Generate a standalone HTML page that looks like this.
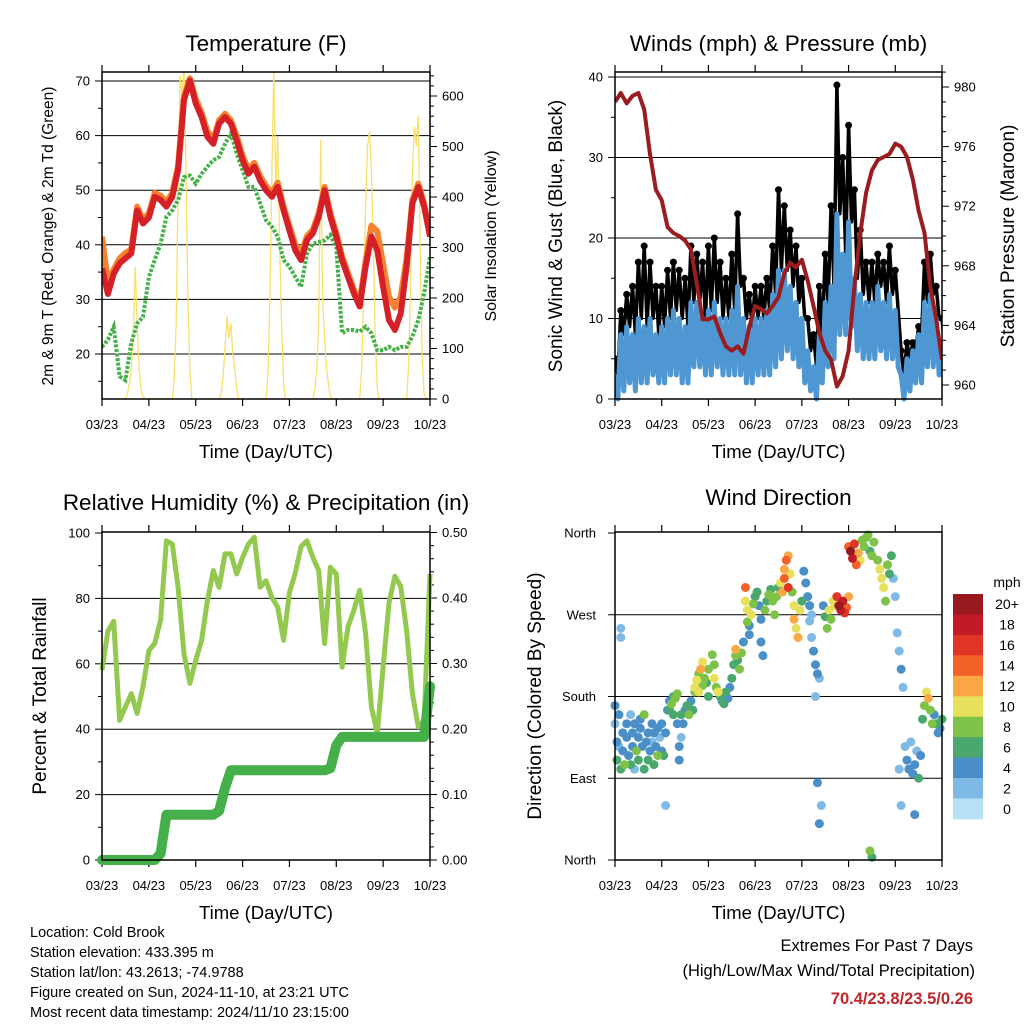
<!DOCTYPE html>
<html><head><meta charset="utf-8">
<style>
html,body{margin:0;padding:0;background:#fff;}
svg{display:block;font-family:"Liberation Sans",Arial,sans-serif;}
</style></head>
<body>
<svg id="root" width="1024" height="1024" viewBox="0 0 1024 1024" xmlns="http://www.w3.org/2000/svg">
<rect x="0" y="0" width="1024" height="1024" fill="#fff"/>
<g font-size="14.5" fill="#000">
<text x="30" y="937">Location: Cold Brook</text>
<text x="30" y="957">Station elevation: 433.395 m</text>
<text x="30" y="977">Station lat/lon: 43.2613; -74.9788</text>
<text x="30" y="997">Figure created on Sun, 2024-11-10, at 23:21 UTC</text>
<text x="30" y="1017">Most recent data timestamp: 2024/11/10 23:15:00</text>
</g>
<g font-size="16.5" text-anchor="end">
<text x="973" y="951">Extremes For Past 7 Days</text>
<text x="975" y="976">(High/Low/Max Wind/Total Precipitation)</text>
<text x="973" y="1004" fill="#c0272d" font-weight="bold">70.4/23.8/23.5/0.26</text>
</g>
</svg>
<script>
// ---------- data (3-hourly, 57 points over 7 days) ----------
const dayLabels = ["03/23","04/23","05/23","06/23","07/23","08/23","09/23","10/23"];
const tempRed = [35.7,31,34.7,36.6,37.5,38.4,46.3,43.9,45,48.8,48.2,47,48.8,53.7,66.5,70.1,65.9,63.4,59.8,58.5,62.2,63.4,62.2,59.1,55.5,53,54.3,51.8,50,48.8,50.6,46.3,42.7,39,37.2,40.9,42.1,45.1,50,45.1,41.5,37.2,34.1,31.1,28.7,36,41.5,39,32.3,26.2,24.4,27.4,36,47.6,50.6,47,41.5];
const tempOrange = [41.5,33,35.5,37.5,38.5,39.2,47,44.6,45.8,49.5,49,47.8,49.5,54.5,67.2,70.5,66.8,64.2,60.8,59.3,62.8,64,62.8,59.9,56.3,53.8,55,52.6,50.8,49.5,51.4,47,43.5,40,38.5,41.6,42.8,45.8,50.6,45.8,42.2,37.9,34.8,31.8,29.4,37,43.5,42.5,36.5,30.5,28.5,30.5,37.5,48.2,51.2,47.6,42];
const dewpoint = [21.3,22.6,25,15.9,15.2,22,25.6,26.8,34.1,37.2,40.2,45.1,46.3,48.2,52.4,52.7,51.2,53,54.3,55.5,56.1,58.5,60.4,56.7,53.7,50.6,50.6,47.6,44.5,43.3,41.5,37.2,36,34.1,32.3,38.4,40.2,40.5,40.8,41.8,39.6,23.8,24.4,24.4,24.1,25,23.8,20.7,20.7,21.3,20.7,21.3,21.3,23.2,26.2,31.1,37.8];
// hourly solar insolation, daylight values per day (hours 12..22 after each 23 UTC tick)
const solarDay1 = [0,10,30,60,120,262,150,60,20,5,0];
const solarDay2 = [0,40,150,420,640,600,660,450,200,60,0];
const solarDay3 = [0,10,40,100,164,120,150,90,60,20,0];
const solarDay4 = [0,50,200,450,650,420,520,300,150,30,0];
const solarDay5 = [0,20,60,150,513,200,120,60,30,5,0];
const solarDay6 = [0,60,200,380,500,530,450,300,120,20,0];
const solarDay7 = [0,60,220,450,540,500,560,300,80,10,0];
const pressure = [979,979.6,978.9,979.4,979.6,978.5,975.5,973.1,972.4,970.6,970.2,970,969.7,969.1,966.8,964.4,964.4,964.6,963.5,962.6,962.3,962.6,962.1,963.9,965.3,965.1,964.8,965.3,965.9,967.5,968.2,967.9,968.4,967,965.3,963.5,962.3,961.7,959.9,960.6,962.3,966.6,970.2,972.9,974.4,975.1,975.3,975.5,976.2,976,975.3,973.8,971.7,970.2,966.6,964.4,961.7];
const windHi = [3,8,9,8,10,9,10,8,9,10,11,10,9,12,12,10,11,12,10,10,11,14,10,9,10,10,11,13,16,16,14,12,10,6,4,8,12,14,23,18,22,15,13,12,12,14,12,13,11,3,5,6,8,12,13,10,6];
const windLo = [0,1,2,1,2,2,3,2,2,3,3,2,2,4,4,3,3,4,3,3,3,3,2,2,3,3,3,4,5,6,5,4,2,1,0,2,4,5,8,8,9,6,5,5,5,6,5,5,4,0,1,2,2,4,4,3,1];
const gust = [5,11,13,14,17,19,17,14,14,16,17,16,15,19,18,17,19,20,17,15,18,23,15,13,14,14,15,19,26,24,21,19,15,10,8,14,18,24,39,30,34,26,21,17,17,18,17,19,16,6,7,7,9,17,18,14,10];
const rh = [58,70,73,42.7,46.8,50.9,44.8,53,64,66.2,73.4,97.6,96.6,83.4,63,54,61,67.2,79.3,88.5,83.4,93.6,93.6,87.5,92.5,96.6,98.7,83.4,85.4,80.3,77.3,67.2,81.7,87.8,95.9,97.6,92.5,88.5,66.2,89.5,87.5,59,71.3,76.4,82.5,69.3,46.8,38.7,59,78.6,86.8,83.7,70.2,50.9,40.7,42.7,87.5];
const precip = [0,0,0,0,0,0,0,0,0,0,0.01,0.069,0.069,0.069,0.069,0.069,0.069,0.069,0.069,0.069,0.075,0.11,0.137,0.137,0.137,0.137,0.137,0.137,0.137,0.137,0.137,0.137,0.137,0.137,0.137,0.137,0.137,0.137,0.137,0.14,0.175,0.188,0.188,0.188,0.188,0.188,0.188,0.188,0.188,0.188,0.188,0.188,0.188,0.188,0.188,0.188,0.265];
// wind direction observations
const dirHour = [0,0,1,1,2,2,3,3,3,4,4,5,6,6,7,8,8,9,9,10,10,11,12,12,13,13,14,15,15,16,17,17,18,19,19,20,20,21,22,22,23,24,24,25,26,26,27,
28,28,29,30,30,31,32,32,33,33,34,34,35,36,37,38,39,40,41,
41,42,43,43,44,45,45,46,47,48,48,
50,51,51,52,53,54,55,56,57,58,59,60,
61,62,62,63,64,65,66,
67,67,68,68,69,69,70,71,72,
73,74,75,75,76,77,78,
79,80,81,82,83,84,85,
86,87,87,88,89,89,90,91,92,
92,93,94,95,96,
97,98,99,100,101,
100,101,102,103,104,105,103,104,105,106,
107,108,109,110,111,112,113,
114,115,116,117,118,119,120,
120,121,122,123,124,125,126,127,
128,129,130,131,132,133,131,132,
135,136,137,138,139,140,141,142,
143,144,145,146,147,148,146,147,
149,150,151,152,153,154,155,156,157,154,
158,159,160,161,162,163,
164,165,166,167,168];
const dirDeg = [170,150,130,110,160,125,255,245,100,140,120,105,150,135,115,160,105,125,140,100,150,120,135,110,145,155,125,100,160,130,140,110,120,150,130,105,140,125,145,115,135,150,120,115,140,60,165,
165,175,172,160,180,178,183,150,110,125,160,135,150,165,170,160,175,165,185,
190,198,205,185,210,218,192,200,195,210,180,
226,215,200,190,185,180,175,172,185,178,190,200,
215,225,232,220,210,228,240,
300,285,275,262,258,248,270,282,290,
295,280,265,240,225,275,285,
292,298,285,270,290,300,305,
295,310,320,330,335,300,315,295,280,
265,255,245,275,285,
318,305,290,280,270,
263,245,230,215,205,200,180,85,40,60,
280,268,255,275,265,285,280,
290,280,275,285,272,278,290,
345,340,332,348,325,338,330,352,
345,355,358,340,335,350,10,3,
330,320,310,300,285,325,315,335,
310,290,250,230,210,190,100,60,
125,110,100,130,95,105,120,90,115,50,
155,170,185,178,165,150,
160,150,140,145,155];
const dirSpd = [3,2,3,6,4,2,1,1,6,3,4,7,3,4,4,2,6,3,4,2,4,7,4,6,3,4,4,6,8,4,3,6,4,4,2,6,3,4,4,7,2,4,4,6,4,2,3,
6,4,7,6,6,8,7,3,4,4,5,2,3,4,6,7,4,6,8,
10,9,8,10,12,9,7,8,6,7,6,
8,7,10,8,9,6,4,5,6,4,4,6,
6,8,12,6,7,8,4,
13,10,9,8,4,3,10,8,6,
6,4,3,4,4,7,6,
7,6,8,7,8,6,9,
12,14,12,14,11,16,10,8,10,
12,10,12,9,6,
4,4,4,4,2,
2,2,3,4,4,2,1,3,3,2,
4,6,8,9,7,10,10,
16,20,18,18,16,14,12,
14,20,18,16,14,12,10,8,
8,8,8,6,8,8,8,6,
8,10,10,10,8,8,6,6,
1,2,2,2,3,2,1,1,
2,4,3,2,4,4,2,6,3,3,
6,8,10,12,8,7,
4,6,4,4,6];
const speedColors = ["#b7e1f6","#7fbae6","#4a8fc7","#4aa86e","#7ec24a","#e7e05a","#f9a845","#f26128","#e03427","#c21b26","#981a1e"];
const speedLabels = ["0","2","4","6","8","10","12","14","16","18","20+"];

// ---------- helpers ----------
const NS = "http://www.w3.org/2000/svg";
const root = document.getElementById("root");
function mk(tag, attrs, parent){
  const e = document.createElementNS(NS, tag);
  for (const k in attrs) e.setAttribute(k, attrs[k]);
  (parent||root).appendChild(e);
  return e;
}
function lin(d0,d1,r0,r1){ return v => r0 + (v-d0)*(r1-r0)/(d1-d0); }
const TOTAL_H = 168;

function panel(name, x0,x1,y0,y1, title, titleY, xTitleY, tickY){
  const g = mk("g", {});
  
  
  const t = mk("text", {x:(x0+x1)/2, y:titleY, "text-anchor":"middle", "font-size":"22.5"}, g);
  t.textContent = title;
  
  
  const xt = mk("text", {x:(x0+x1)/2, y:xTitleY, "text-anchor":"middle", "font-size":"18.5"}, g);
  xt.textContent = "Time (Day/UTC)";
  
  
  const xs = lin(0, TOTAL_H, x0, x1);
  for (let k=0;k<dayLabels.length;k++){
    const x = xs(k*24);
    const tk = mk("line", {x1:x,x2:x,y1:y1,y2:y1+7,stroke:"#000","stroke-width":"1.2"}, g);
    
    
    const tt = mk("line", {x1:x,x2:x,y1:y0,y2:y0-7,stroke:"#000","stroke-width":"1.2"}, g);
    
    
    const lb = mk("text", {x:x, y:tickY, "text-anchor":"middle", "font-size":"13"}, g);
    lb.textContent = dayLabels[k];
    
    
  }
  return {g, xs};
}
function yAxis(g, side, x0,x1,y0,y1, scale, min, max, major, minor, fmt, grid){
  const xe = side==="left" ? x0 : x1;
  const dir = side==="left" ? -1 : 1;
  const n = Math.round((max-min)/minor);
  for (let i=0;i<=n;i++){
    const v = min + i*minor;
    const y = scale(v);
    if (y < y0-0.5 || y > y1+0.5) continue;
    const isMaj = Math.abs(v/major - Math.round(v/major)) < 1e-6;
    const tk = mk("line", {x1:xe, x2:xe+dir*(isMaj?7:4), y1:y, y2:y, stroke:"#000","stroke-width":"1"}, g);
    
    
    if (isMaj){
      if (grid && y > y0+1 && y < y1-1){
        const gl = mk("line", {x1:x0,x2:x1,y1:y,y2:y,stroke:"#000","stroke-width":"1"}, g);
        
        
      }
      const lb = mk("text", {x: xe + dir*12, y: y+4.5, "text-anchor": side==="left"?"end":"start", "font-size":"13"}, g);
      lb.textContent = fmt(v);
      
      
    }
  }
}
function vTitle(g, x, y, txt, size, name){
  const t = mk("text", {x:x, y:y, "text-anchor":"middle", "font-size":size, transform:"rotate(-90 "+x+" "+y+")"}, g);
  t.textContent = txt;
  
  
}
function box(g,x0,x1,y0,y1){
  const b = mk("rect", {x:x0,y:y0,width:x1-x0,height:y1-y0,fill:"none",stroke:"#000","stroke-width":"1.5"}, g);
  
  
}
function pathFrom(xs, ys){
  let d = "";
  for (let i=0;i<xs.length;i++) d += (i?"L":"M") + xs[i].toFixed(1) + " " + ys[i].toFixed(1);
  return d;
}
const step3 = i => i*3;

// ---------- Panel 1: Temperature ----------
(function(){
  const x0=102,x1=430,y0=72,y1=399;
  const P = panel("temperature-chart", x0,x1,y0,y1, "Temperature (F)", 51, 458, 429);
  const g = P.g, xs = P.xs;
  const yT = lin(20,70,354,81);
  const yS = lin(0,600,399,96);
  const clip = mk("clipPath", {id:"c1"}, g);
  mk("rect", {x:x0,y:y0,width:x1-x0,height:y1-y0}, clip);
  yAxis(g,"left",x0,x1,y0,y1,yT,10,75,10,5,v=>String(v),true);
  yAxis(g,"right",x0,x1,y0,y1,yS,0,640,100,20,v=>String(v),false);
  const data = mk("g", {"clip-path":"url(#c1)"}, g);
  const solar = [].concat(
    new Array(12).fill(0), solarDay1, [0],
    new Array(12).fill(0), solarDay2, [0],
    new Array(12).fill(0), solarDay3, [0],
    new Array(12).fill(0), solarDay4, [0],
    new Array(12).fill(0), solarDay5, [0],
    new Array(12).fill(0), solarDay6, [0],
    new Array(12).fill(0), solarDay7, [0]);
  const sp = mk("path", {d: pathFrom(solar.map((v,i)=>xs(i)), solar.map(v=>yS(v))), fill:"none", stroke:"#f8e06a","stroke-width":"1.3"}, data);
  
  
  const dp = mk("path", {d: pathFrom(dewpoint.map((v,i)=>xs(step3(i))), dewpoint.map(v=>yT(v))), fill:"none", stroke:"#46b04a","stroke-width":"4","stroke-dasharray":"3 1.6"}, data);
  
  
  const op = mk("path", {d: pathFrom(tempOrange.map((v,i)=>xs(step3(i))), tempOrange.map(v=>yT(v))), fill:"none", stroke:"#f5822f","stroke-width":"6","stroke-linejoin":"round"}, data);
  
  
  const rp = mk("path", {d: pathFrom(tempRed.map((v,i)=>xs(step3(i))), tempRed.map(v=>yT(v))), fill:"none", stroke:"#d62027","stroke-width":"6","stroke-linejoin":"round"}, data);
  
  
  box(g,x0,x1,y0,y1);
  vTitle(g, 53, 236, "2m & 9m T (Red, Orange) & 2m Td (Green)", "15.5", "left-y-axis-title");
  vTitle(g, 496, 236, "Solar Insolation (Yellow)", "16", "right-y-axis-title");
})();

// ---------- Panel 2: Winds & Pressure ----------
(function(){
  const x0=615,x1=942,y0=72,y1=399;
  const P = panel("winds-pressure-chart", x0,x1,y0,y1, "Winds (mph) & Pressure (mb)", 51, 458, 429);
  const g = P.g, xs = P.xs;
  const yW = lin(0,40,399,77);
  const yP = lin(960,980,385,87);
  const clip = mk("clipPath", {id:"c2"}, g);
  mk("rect", {x:x0,y:y0-3,width:x1-x0,height:y1-y0+6}, clip);
  yAxis(g,"left",x0,x1,y0,y1,yW,0,40,10,5,v=>String(v),true);
  yAxis(g,"right",x0,x1,y0,y1,yP,959,981,4,1,v=>String(v),false);
  const data = mk("g", {"clip-path":"url(#c2)"}, g);
  const gx=[],gy=[],bx=[],by=[];
  for (let i=0;i<gust.length;i++){
    gx.push(xs(step3(i))); gy.push(yW(gust[i]));
    gx.push(xs(step3(i)+1.5)); gy.push(yW(windHi[i]));
    bx.push(xs(step3(i))); by.push(yW(windHi[i]));
    bx.push(xs(step3(i)+1.5)); by.push(yW(windLo[i]));
  }
  const gp = mk("path", {d: pathFrom(gx,gy), fill:"none", stroke:"#000","stroke-width":"3.5","stroke-linejoin":"round"}, data);
  
  
  for (let i=0;i<gust.length;i++){
    const c = mk("circle", {cx:xs(step3(i)), cy:yW(gust[i]), r:"3.5", fill:"#000"}, data);
    
    
  }
  const wp = mk("path", {d: pathFrom(bx,by), fill:"none", stroke:"#4f97d2","stroke-width":"5","stroke-linejoin":"round"}, data);
  
  
  const pp = mk("path", {d: pathFrom(pressure.map((v,i)=>xs(step3(i))), pressure.map(v=>yP(v))), fill:"none", stroke:"#9b1c1f","stroke-width":"4","stroke-linejoin":"round"}, data);
  
  
  box(g,x0,x1,y0,y1);
  vTitle(g, 562, 236, "Sonic Wind & Gust (Blue, Black)", "19", "left-y-axis-title");
  vTitle(g, 1014, 236, "Station Pressure (Maroon)", "19", "right-y-axis-title");
})();

// ---------- Panel 3: RH & Precip ----------
(function(){
  const x0=102,x1=430,y0=532,y1=860;
  const P = panel("humidity-precip-chart", x0,x1,y0,y1, "Relative Humidity (%) & Precipitation (in)", 510, 919, 890);
  const g = P.g, xs = P.xs;
  const yR = lin(0,100,860,533);
  const yQ = lin(0,0.4,860,598);
  yAxis(g,"left",x0,x1,y0,y1,yR,0,100,20,10,v=>String(v),true);
  yAxis(g,"right",x0,x1,y0,y1,yQ,0,0.5,0.1,0.02,v=>v.toFixed(2),false);
  const rp = mk("path", {d: pathFrom(rh.map((v,i)=>xs(step3(i))), rh.map(v=>yR(v))), fill:"none", stroke:"#93c94f","stroke-width":"5","stroke-linejoin":"round"}, g);
  
  
  const qp = mk("path", {d: pathFrom(precip.map((v,i)=>xs(step3(i))), precip.map(v=>yQ(v))), fill:"none", stroke:"#45b04a","stroke-width":"10","stroke-linejoin":"round","stroke-linecap":"round"}, g);
  
  
  box(g,x0,x1,y0,y1);
  vTitle(g, 46, 696, "Percent & Total Rainfall", "19", "left-y-axis-title");
})();

// ---------- Panel 4: Wind Direction ----------
(function(){
  const x0=615,x1=942,y0=532,y1=860;
  const P = panel("wind-direction-chart", x0,x1,y0,y1, "Wind Direction", 505, 919, 890);
  const g = P.g, xs = P.xs;
  const yD = lin(0,360,860,533);
  const names = ["North","East","South","West","North"];
  for (let k=0;k<5;k++){
    const y = yD(k*90);
    const tk = mk("line", {x1:x0,x2:x0-7,y1:y,y2:y,stroke:"#000","stroke-width":"1"}, g);
    
    
    if (k>0 && k<4){
      const gl = mk("line", {x1:x0,x2:x1,y1:y,y2:y,stroke:"#000","stroke-width":"1"}, g);
      
      
    }
    const lb = mk("text", {x:596, y:y+4.5, "text-anchor":"end", "font-size":"13"}, g);
    lb.textContent = names[k];
    
    
  }
  const pts = mk("g", {}, g);
  
  
  const order = dirSpd.map((s,i)=>i).sort((a,b)=>dirSpd[a]-dirSpd[b]);
  for (const i of order){
    const ci = Math.min(10, Math.round(dirSpd[i]/2));
    const c = mk("circle", {cx:xs(dirHour[i]), cy:yD(dirDeg[i]), r:"4.5", fill:speedColors[ci]}, pts);
    
    
  }
  box(g,x0,x1,y0,y1);
  vTitle(g, 541, 696, "Direction (Colored By Speed)", "19", "left-y-axis-title");
  const cb = mk("g", {}, g);
  
  
  const mph = mk("text", {x:1007, y:587, "text-anchor":"middle", "font-size":"14"}, cb);
  mph.textContent = "mph";
  
  
  const bh = (819-594)/speedColors.length;
  for (let k=0;k<speedColors.length;k++){
    const idx = speedColors.length-1-k;
    const y = 594 + k*bh;
    const r = mk("rect", {x:953,y:y,width:30,height:bh+0.3,fill:speedColors[idx]}, cb);
    
    
    const t = mk("text", {x:1007, y:y+bh/2+5, "text-anchor":"middle", "font-size":"14"}, cb);
    t.textContent = speedLabels[idx];
    
    
  }
})();
</script>
</body></html>
